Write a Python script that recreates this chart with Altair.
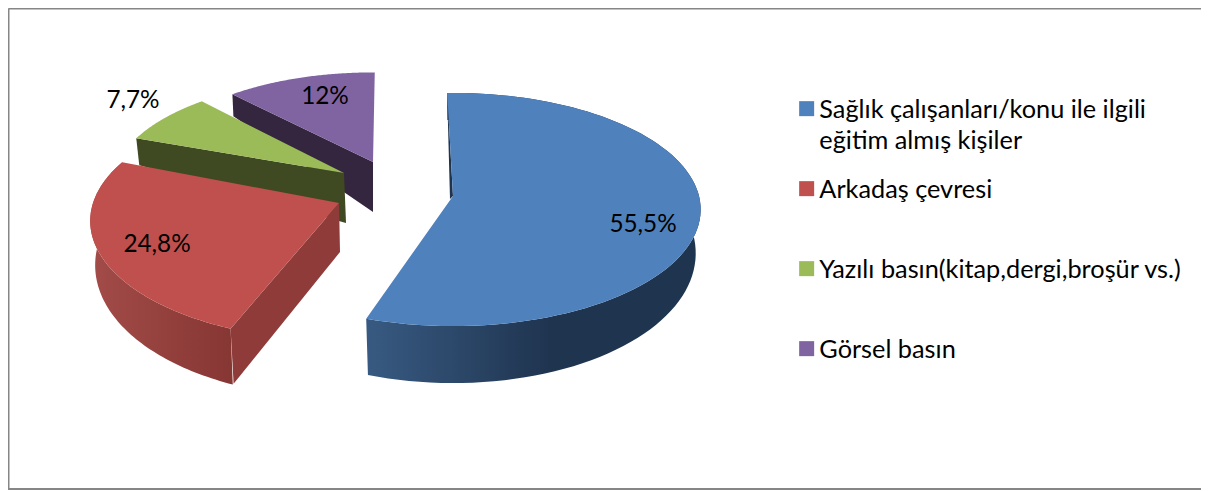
import numpy as np
import pandas as pd
import altair as alt

# --- values
categories = ["Sağlık çalışanları/konu ile ilgili|eğitim almış kişiler", "Arkadaş çevresi",
              "Yazılı basın(kitap,dergi,broşür vs.)", "Görsel basın"]
shares = [55.5, 24.8, 7.7, 12.0]
pct_text = ["55,5%", "24,8%", "7,7%", "12%"]

# --- styling / layout of the 3-D look
face_colors = ["#4f81bd", "#c0504d", "#9bbb59", "#8064a2"]
side_colors = ["#1f344f", "#8e3b39", "#3f4922", "#34263f"]
apex_x = [453, 339, 344, 373]
apex_y = [196, 203, 173, 162]
radius_x = [246, 246, 230, 225]
radius_y = [115, 117, 105, 100]
perspective = [0.116, 0.15, 0.116, 0.116]
rotation = [-1.5, 2.5, 1, 0.5]
apex_depth = [3, 49, 50, 50]
apex_shift = [-3, 1, 2, 0]
rim_depth = [3, 55, 27, 22]
rim_shift = [0, 3, 3, 1]
label_x = [643, 157, 133, 325]
label_y = [225, 245, 101, 97]
FONT = "Lato"
FS = 24.3
LEGEND_FS = 25.3

W, H = 1193, 482


def rim(i, phi):
    p = np.radians(phi)
    d = 1 + perspective[i] * np.cos(p)
    return apex_x[i] + radius_x[i] * np.sin(p) / d, apex_y[i] - radius_y[i] * np.cos(p) / d


def frame(xs, ys):
    xs, ys = list(xs), list(ys)
    xs.append(xs[0]); ys.append(ys[0])
    return pd.DataFrame({"x": xs, "y": ys, "o": range(len(xs))})


X = alt.X("x:Q", scale=alt.Scale(domain=[8, 8 + W], nice=False, zero=False), axis=None)
Y = alt.Y("y:Q", scale=alt.Scale(domain=[8 + H, 8], nice=False, zero=False), axis=None)


def poly(df, fill):
    return alt.Chart(df).mark_line(fill=fill, strokeWidth=0, interpolate="linear").encode(
        x=X, y=Y, order="o:Q")


def grad(stops):
    return alt.LinearGradient(gradient="linear", x1=0, x2=1, y1=0, y2=0,
                              stops=[alt.GradientStop(color=c, offset=o) for o, c in stops])


edges = np.concatenate([[0], np.cumsum(shares)]) * 3.6
layers = []
outer_fill = {0: grad([(0, "#385a82"), (0.55, "#1f344f"), (1, "#1f344f")]),
              1: grad([(0, "#a34c49"), (1, "#863633")])}
for i in [3, 2, 1, 0]:
    a0, a1 = edges[i] + rotation[i], edges[i + 1] + rotation[i]
    phis = np.linspace(a0, a1, 90)
    rx, ry = rim(i, phis)
    if i in outer_fill:
        c = np.cos(np.radians(phis))
        bx = apex_x[i] + (rx - apex_x[i]) * 0.98
        by = ry + 42 - 15 * c
        layers.append(poly(frame(np.r_[rx, bx[::-1]], np.r_[ry, by[::-1]]), outer_fill[i]))
    # the cut side that faces the viewer
    layers.append(poly(frame(
        [apex_x[i], rx[0], rx[0] + rim_shift[i], apex_x[i] + apex_shift[i]],
        [apex_y[i], ry[0], ry[0] + rim_depth[i], apex_y[i] + apex_depth[i]]), side_colors[i]))
    layers.append(poly(frame(np.r_[apex_x[i], rx], np.r_[apex_y[i], ry]), face_colors[i]))

labels = pd.DataFrame({"t": pct_text, "x": label_x, "y": label_y})
layers.append(alt.Chart(labels).mark_text(font=FONT, fontSize=FS, color="#000000",
                                          align="center", baseline="middle").encode(x=X, y=Y, text="t:N"))

legend_df = pd.DataFrame({"c": categories, "x": label_x, "y": label_y})
layers.append(alt.Chart(legend_df).mark_point(filled=True, size=0, opacity=0).encode(
    x=X, y=Y,
    fill=alt.Fill("c:N", sort=categories,
                  scale=alt.Scale(domain=categories, range=face_colors),
                  legend=alt.Legend(title=None, orient="none", legendX=786, legendY=88,
                                    symbolType="square", symbolSize=225, symbolOpacity=1,
                                    symbolStrokeWidth=0, labelFont=FONT, labelFontSize=LEGEND_FS,
                                    labelColor="#000000", labelLimit=500, labelOffset=0,
                                    labelBaseline="top", rowPadding=22, gridAlign="all",
                                    labelExpr="split(datum.label, '|')"))))

bx = pd.DataFrame({"x": [8.5, 8.5, 8 + W], "y": [8.5, 7 + H, 7 + H], "o": [0, 1, 2]})
layers.insert(0, alt.Chart(bx).mark_line(color="#868686", strokeWidth=2).encode(x=X, y=Y, order="o:Q"))
top = pd.DataFrame({"x": [8.5, 8 + W], "y": [8.5, 8.5], "o": [0, 1]})
layers.insert(0, alt.Chart(top).mark_line(color="#868686", strokeWidth=2).encode(x=X, y=Y, order="o:Q"))

chart = alt.layer(*layers).properties(
    width=W, height=H, padding=0, background="#ffffff",
    autosize=alt.AutoSizeParams(type="none"),
).configure_view(stroke=None).configure(style={"guide-label": {"lineHeight": 31, "dy": -11}})
chart.save("out.html", embed_options={"renderer": "svg", "actions": False})
